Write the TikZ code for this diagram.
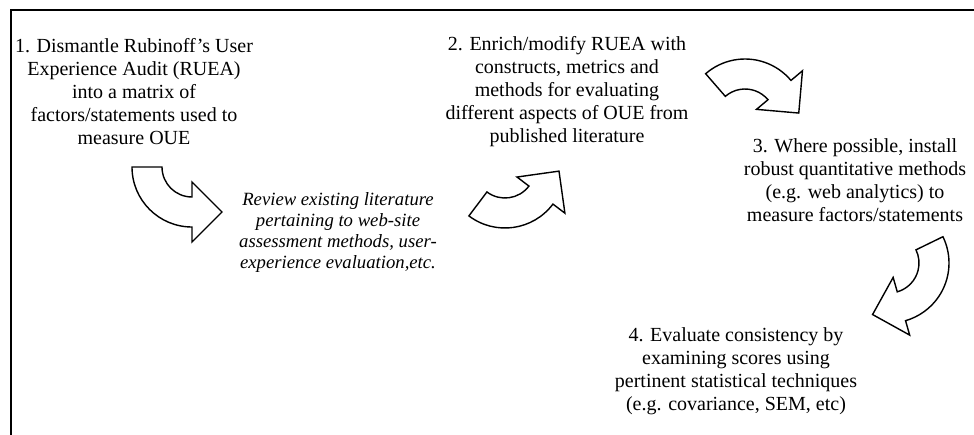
\documentclass[tikz,border=0pt]{standalone}
\usepackage{fontspec}
\setmainfont{Liberation Serif}
\usetikzlibrary{calc}

% A curved block arrow: centre, tail angle, head angle, turning sense (+1 ccw, -1 cw)
\newcommand{\bendarrow}[4]{%
  \draw[bendshape]
    ($(#1)+(#2:60)$) arc[start angle=#2, end angle=#3, radius=60pt]
    -- ($(#1)+(#3:75)$)
    -- ($(#1)+(#3:45)+(#3+#4*90:30)$)
    -- ($(#1)+(#3:15)$)
    -- ($(#1)+(#3:30)$) arc[start angle=#3, end angle=#2, radius=30pt]
    -- cycle;}

\begin{document}
\begin{tikzpicture}[x=1pt, y=1pt,
  frameline/.style={line width=2pt, black},
  bendshape/.style={draw=black, fill=white, line width=1.4pt, line join=miter},
  stepbox/.style={align=center, inner sep=0pt, font=\fontsize{20}{23}\selectfont},
  notebox/.style={align=center, inner sep=0pt, font=\fontsize{18.7}{21}\selectfont\itshape}]
\useasboundingbox (0,0) rectangle (974,-434);

% open frame: top and left edges only
\coordinate (frameTL) at (11,-10);
\coordinate (frameTR) at (975,-10);
\coordinate (frameBL) at (11,-435);
\draw[frameline] (frameTR) -- (frameTL) -- (frameBL);

% process steps
\node[stepbox] (s1) at (134,-92) {1. Dismantle Rubinoff’s User\\Experience Audit (RUEA)\\into a matrix of\\factors/statements used to\\measure OUE};
\node[stepbox] (s2) at (567,-92) {2. Enrich/modify RUEA with\\constructs, metrics and\\methods for evaluating\\different aspects of OUE from\\published literature};
\node[notebox] (rev) at (338,-232) {Review existing literature\\pertaining to web-site\\assessment methods, user-\\experience evaluation,etc.};
\node[stepbox] (s3) at (855,-180) {3. Where possible, install\\robust quantitative methods\\(e.g. web analytics) to\\measure factors/statements};
\node[stepbox] (s4) at (736,-371) {4. Evaluate consistency by\\examining scores using\\pertinent statistical techniques\\(e.g. covariance, SEM, etc)};

% curved block arrows between the steps
\coordinate (a1) at (192,-167);
\coordinate (a2) at (505,-168);
\coordinate (a3) at (745,-119);
\coordinate (a4) at (889,-263);
\bendarrow{a1}{180}{270}{1}
\bendarrow{a2}{233}{323}{1}
\bendarrow{a3}{131}{40}{-1}
\bendarrow{a4}{26}{-74}{-1}
\end{tikzpicture}
\end{document}
